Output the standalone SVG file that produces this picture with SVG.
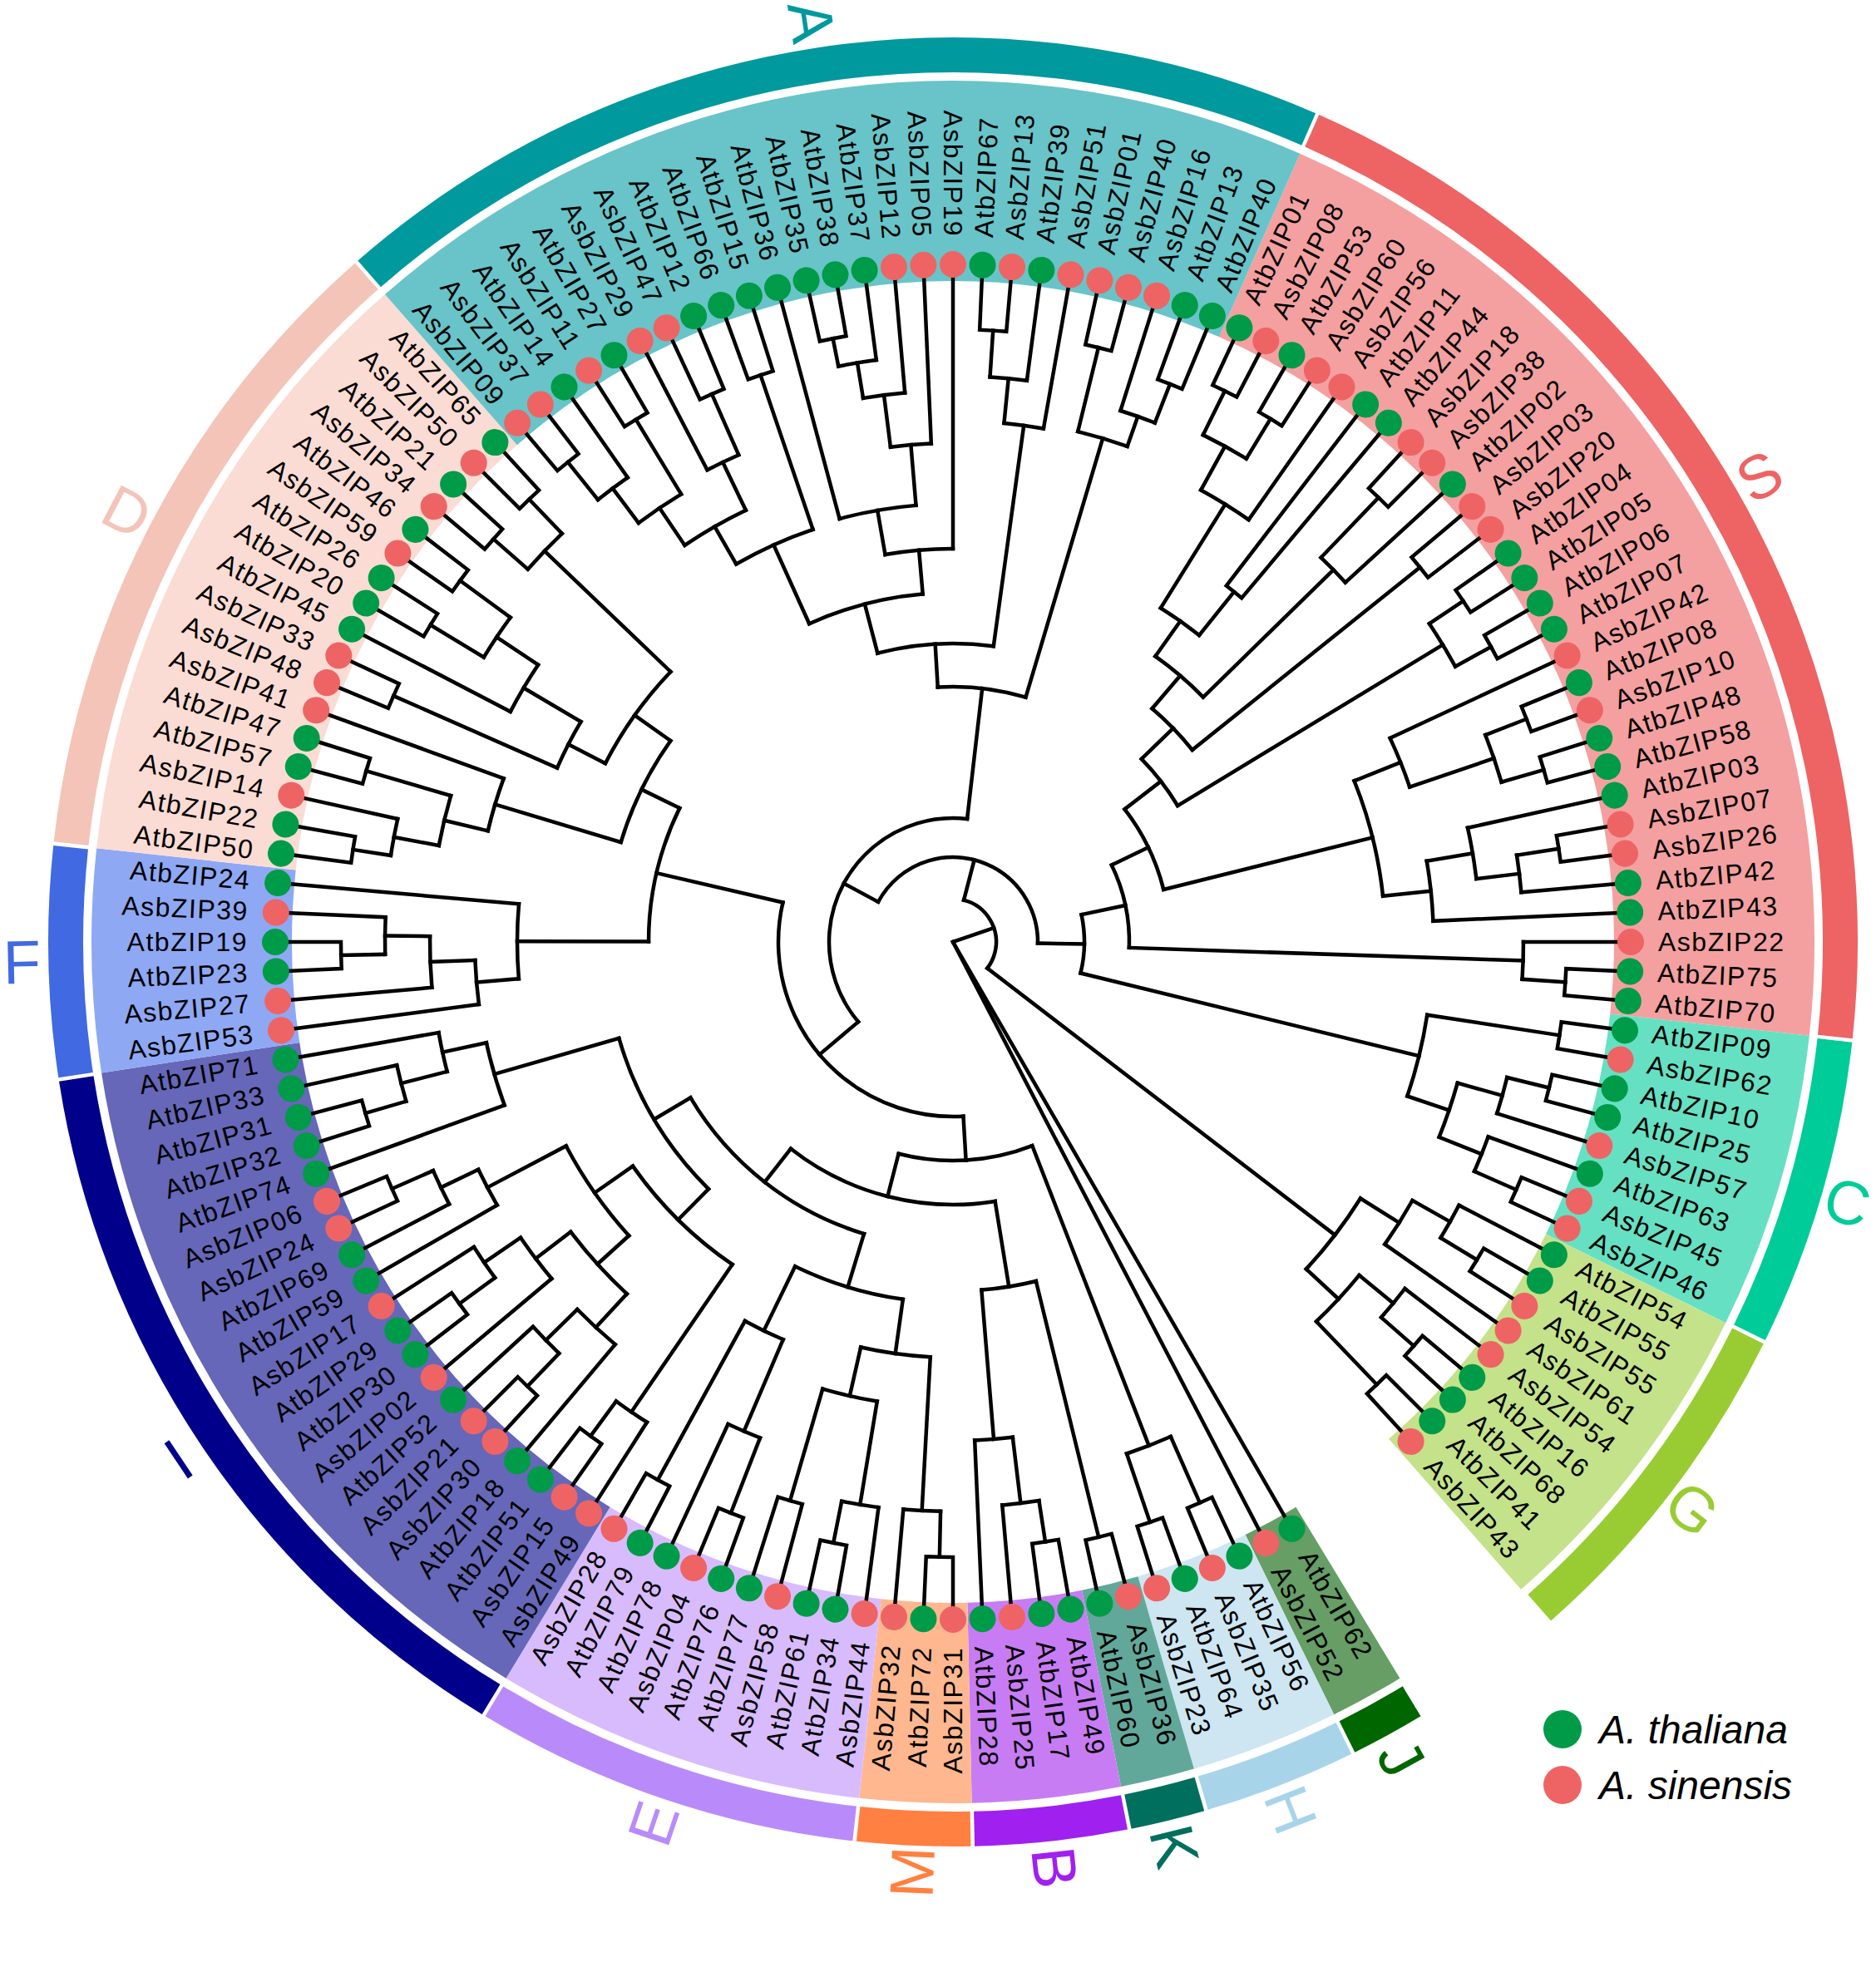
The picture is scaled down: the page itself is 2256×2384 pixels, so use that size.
<svg xmlns="http://www.w3.org/2000/svg" width="2256" height="2384" viewBox="0 0 2256 2384">
<style>
.hl circle{fill:none;stroke-width:241}
.ring circle{fill:none;stroke-width:42}
.tree{fill:none;stroke:#000;stroke-width:4.5;stroke-linecap:square}
.g{fill:#009B48}.r{fill:#EE6464}
.t{font-family:"Liberation Sans",Arial,Helvetica,sans-serif;font-size:32px;letter-spacing:1.5px;dominant-baseline:central;fill:#000}
.f{text-anchor:end}
.cl text{font-family:"Liberation Sans",Arial,sans-serif;font-size:74px;text-anchor:middle;dominant-baseline:central}
.lg{font-family:"Liberation Sans",Arial,sans-serif;font-size:48px;font-style:italic;dominant-baseline:central;fill:#000}
</style>
<rect width="2256" height="2384" fill="#fff"/>
<g transform="translate(1146 1133)">
<g id="highlights" class="hl">
<circle r="915.5" pathLength="360" stroke-dasharray="72.5 999" transform="rotate(293.75)" stroke="#F4A0A0"/>
<circle r="915.5" pathLength="360" stroke-dasharray="20 999" transform="rotate(6.25)" stroke="#66E0C2"/>
<circle r="915.5" pathLength="360" stroke-dasharray="22.5 999" transform="rotate(26.25)" stroke="#C4E28A"/>
<circle r="915.5" pathLength="360" stroke-dasharray="5 999" transform="rotate(58.75)" stroke="#669E66"/>
<circle r="915.5" pathLength="360" stroke-dasharray="10 999" transform="rotate(63.75)" stroke="#CDE6F2"/>
<circle r="915.5" pathLength="360" stroke-dasharray="5 999" transform="rotate(73.75)" stroke="#62A89A"/>
<circle r="915.5" pathLength="360" stroke-dasharray="10 999" transform="rotate(78.75)" stroke="#C77CF4"/>
<circle r="915.5" pathLength="360" stroke-dasharray="7.5 999" transform="rotate(88.75)" stroke="#FFB78F"/>
<circle r="915.5" pathLength="360" stroke-dasharray="25 999" transform="rotate(96.25)" stroke="#D8BBFD"/>
<circle r="915.5" pathLength="360" stroke-dasharray="50 999" transform="rotate(121.25)" stroke="#6667B8"/>
<circle r="915.5" pathLength="360" stroke-dasharray="15 999" transform="rotate(171.25)" stroke="#8EA8F4"/>
<circle r="915.5" pathLength="360" stroke-dasharray="42.5 999" transform="rotate(186.25)" stroke="#FADCD4"/>
<circle r="915.5" pathLength="360" stroke-dasharray="65 999" transform="rotate(228.75)" stroke="#68C4C8"/>
</g>
<g id="clade-bars" class="ring">
<circle r="1067" pathLength="360" stroke-dasharray="72.26 999" transform="rotate(293.87)" stroke="#EE6363"/>
<circle r="1067" pathLength="360" stroke-dasharray="19.76 999" transform="rotate(6.37)" stroke="#00CC99"/>
<circle r="1067" pathLength="360" stroke-dasharray="22.26 999" transform="rotate(26.37)" stroke="#99CC33"/>
<circle r="1067" pathLength="360" stroke-dasharray="4.76 999" transform="rotate(58.87)" stroke="#006600"/>
<circle r="1067" pathLength="360" stroke-dasharray="9.76 999" transform="rotate(63.87)" stroke="#A8D4EA"/>
<circle r="1067" pathLength="360" stroke-dasharray="4.76 999" transform="rotate(73.87)" stroke="#006F5E"/>
<circle r="1067" pathLength="360" stroke-dasharray="9.76 999" transform="rotate(78.87)" stroke="#A020F0"/>
<circle r="1067" pathLength="360" stroke-dasharray="7.26 999" transform="rotate(88.87)" stroke="#FF8040"/>
<circle r="1067" pathLength="360" stroke-dasharray="24.76 999" transform="rotate(96.37)" stroke="#B98BFA"/>
<circle r="1067" pathLength="360" stroke-dasharray="49.76 999" transform="rotate(121.37)" stroke="#00008B"/>
<circle r="1067" pathLength="360" stroke-dasharray="14.76 999" transform="rotate(171.37)" stroke="#4169E1"/>
<circle r="1067" pathLength="360" stroke-dasharray="42.26 999" transform="rotate(186.37)" stroke="#F4C4B8"/>
<circle r="1067" pathLength="360" stroke-dasharray="64.76 999" transform="rotate(228.87)" stroke="#00999E"/>
</g>
<g id="connectors" class="tree">
<path d="M0 0H52" transform="rotate(341.03)"/>
<path d="M0 0H800" transform="rotate(60)"/>
<path d="M0 0H800" transform="rotate(62.5)"/>
<circle r="52" pathLength="360" stroke-dasharray="112.95 999" transform="rotate(284.55)"/>
<path d="M52 0H102" transform="rotate(284.55)"/>
<path d="M52 0H579" transform="rotate(37.5)"/>
<circle r="102" pathLength="360" stroke-dasharray="152.69 999" transform="rotate(208.2)"/>
<path d="M102 0H149" transform="rotate(208.2)"/>
<path d="M102 0H158" transform="rotate(0.89)"/>
<circle r="158" pathLength="360" stroke-dasharray="25.73 999" transform="rotate(348.02)"/>
<path d="M158 0H212" transform="rotate(348.02)"/>
<path d="M158 0H577" transform="rotate(13.75)"/>
<circle r="212" pathLength="360" stroke-dasharray="27.715 999" transform="rotate(334.16)"/>
<path d="M212 0H261" transform="rotate(334.16)"/>
<path d="M212 0H686" transform="rotate(1.875)"/>
<circle r="261" pathLength="360" stroke-dasharray="23.72 999" transform="rotate(322.3)"/>
<path d="M261 0H316" transform="rotate(322.3)"/>
<path d="M261 0H520" transform="rotate(346.02)"/>
<circle r="316" pathLength="360" stroke-dasharray="12.89 999" transform="rotate(315.86)"/>
<path d="M316 0H369" transform="rotate(315.86)"/>
<path d="M316 0H689" transform="rotate(328.75)"/>
<circle r="369" pathLength="360" stroke-dasharray="10.78 999" transform="rotate(310.47)"/>
<path d="M369 0H421" transform="rotate(310.47)"/>
<path d="M369 0H720" transform="rotate(321.25)"/>
<circle r="421" pathLength="360" stroke-dasharray="10.315 999" transform="rotate(305.31)"/>
<path d="M421 0H473" transform="rotate(305.31)"/>
<path d="M421 0H640" transform="rotate(315.625)"/>
<circle r="473" pathLength="360" stroke-dasharray="6.875 999" transform="rotate(301.875)"/>
<path d="M473 0H620" transform="rotate(301.875)"/>
<path d="M473 0H540" transform="rotate(308.75)"/>
<circle r="620" pathLength="360" stroke-dasharray="6.25 999" transform="rotate(298.75)"/>
<path d="M620 0H680" transform="rotate(298.75)"/>
<path d="M620 0H800" transform="rotate(305)"/>
<circle r="680" pathLength="360" stroke-dasharray="5 999" transform="rotate(296.25)"/>
<path d="M680 0H739" transform="rotate(296.25)"/>
<path d="M680 0H736" transform="rotate(301.25)"/>
<path d="M800 0H739A739 739 0 0 1 738.3 32.23L799.24 34.9" transform="rotate(295)"/>
<path d="M800 0H736A736 736 0 0 1 735.3 32.1L799.24 34.9" transform="rotate(300)"/>
<path d="M800 0H540A540 540 0 0 1 539.49 23.55L799.24 34.9" transform="rotate(307.5)"/>
<circle r="640" pathLength="360" stroke-dasharray="3.75 999" transform="rotate(313.75)"/>
<path d="M640 0H740" transform="rotate(313.75)"/>
<path d="M640 0H800" transform="rotate(317.5)"/>
<path d="M800 0H740A740 740 0 0 1 739.3 32.28L799.24 34.9" transform="rotate(312.5)"/>
<path d="M800 0H720A720 720 0 0 1 719.31 31.41L799.24 34.9" transform="rotate(320)"/>
<circle r="689" pathLength="360" stroke-dasharray="5 999" transform="rotate(326.25)"/>
<path d="M689 0H738" transform="rotate(326.25)"/>
<path d="M689 0H738" transform="rotate(331.25)"/>
<path d="M800 0H738A738 738 0 0 1 737.3 32.19L799.24 34.9" transform="rotate(325)"/>
<path d="M800 0H738A738 738 0 0 1 737.3 32.19L799.24 34.9" transform="rotate(330)"/>
<circle r="520" pathLength="360" stroke-dasharray="15.785 999" transform="rotate(338.125)"/>
<path d="M520 0H580" transform="rotate(338.125)"/>
<path d="M520 0H578" transform="rotate(353.91)"/>
<circle r="580" pathLength="360" stroke-dasharray="6.25 999" transform="rotate(335)"/>
<path d="M580 0H800" transform="rotate(335)"/>
<path d="M580 0H687" transform="rotate(341.25)"/>
<circle r="687" pathLength="360" stroke-dasharray="5 999" transform="rotate(338.75)"/>
<path d="M687 0H740" transform="rotate(338.75)"/>
<path d="M687 0H740" transform="rotate(343.75)"/>
<path d="M800 0H740A740 740 0 0 1 739.3 32.28L799.24 34.9" transform="rotate(337.5)"/>
<path d="M800 0H740A740 740 0 0 1 739.3 32.28L799.24 34.9" transform="rotate(342.5)"/>
<circle r="578" pathLength="360" stroke-dasharray="7.19 999" transform="rotate(350.31)"/>
<path d="M578 0H634" transform="rotate(350.31)"/>
<path d="M578 0H800" transform="rotate(357.5)"/>
<circle r="634" pathLength="360" stroke-dasharray="5.625 999" transform="rotate(347.5)"/>
<path d="M634 0H800" transform="rotate(347.5)"/>
<path d="M634 0H686" transform="rotate(353.125)"/>
<circle r="686" pathLength="360" stroke-dasharray="3.75 999" transform="rotate(351.25)"/>
<path d="M686 0H737" transform="rotate(351.25)"/>
<path d="M686 0H800" transform="rotate(355)"/>
<path d="M800 0H737A737 737 0 0 1 736.3 32.15L799.24 34.9" transform="rotate(350)"/>
<circle r="686" pathLength="360" stroke-dasharray="3.75 999"/>
<path d="M686 0H800"/>
<path d="M686 0H738" transform="rotate(3.75)"/>
<path d="M800 0H738A738 738 0 0 1 737.3 32.19L799.24 34.9" transform="rotate(2.5)"/>
<circle r="577" pathLength="360" stroke-dasharray="10 999" transform="rotate(8.75)"/>
<path d="M577 0H738" transform="rotate(8.75)"/>
<path d="M577 0H630" transform="rotate(18.75)"/>
<path d="M800 0H738A738 738 0 0 1 737.3 32.19L799.24 34.9" transform="rotate(7.5)"/>
<circle r="630" pathLength="360" stroke-dasharray="6.25 999" transform="rotate(15.625)"/>
<path d="M630 0H686" transform="rotate(15.625)"/>
<path d="M630 0H685" transform="rotate(21.875)"/>
<circle r="686" pathLength="360" stroke-dasharray="3.75 999" transform="rotate(13.75)"/>
<path d="M686 0H738" transform="rotate(13.75)"/>
<path d="M686 0H800" transform="rotate(17.5)"/>
<path d="M800 0H738A738 738 0 0 1 737.3 32.19L799.24 34.9" transform="rotate(12.5)"/>
<circle r="685" pathLength="360" stroke-dasharray="3.75 999" transform="rotate(20)"/>
<path d="M685 0H800" transform="rotate(20)"/>
<path d="M685 0H740" transform="rotate(23.75)"/>
<path d="M800 0H740A740 740 0 0 1 739.3 32.28L799.24 34.9" transform="rotate(22.5)"/>
<circle r="579" pathLength="360" stroke-dasharray="10.62 999" transform="rotate(32.19)"/>
<path d="M579 0H634" transform="rotate(32.19)"/>
<path d="M579 0H632" transform="rotate(42.81)"/>
<circle r="634" pathLength="360" stroke-dasharray="5.625 999" transform="rotate(29.375)"/>
<path d="M634 0H686" transform="rotate(29.375)"/>
<path d="M634 0H800" transform="rotate(35)"/>
<circle r="686" pathLength="360" stroke-dasharray="3.75 999" transform="rotate(27.5)"/>
<path d="M686 0H800" transform="rotate(27.5)"/>
<path d="M686 0H737" transform="rotate(31.25)"/>
<path d="M800 0H737A737 737 0 0 1 736.3 32.15L799.24 34.9" transform="rotate(30)"/>
<circle r="632" pathLength="360" stroke-dasharray="6.875 999" transform="rotate(39.375)"/>
<path d="M632 0H685" transform="rotate(39.375)"/>
<path d="M632 0H737" transform="rotate(46.25)"/>
<circle r="685" pathLength="360" stroke-dasharray="3.75 999" transform="rotate(37.5)"/>
<path d="M685 0H800" transform="rotate(37.5)"/>
<path d="M685 0H737" transform="rotate(41.25)"/>
<path d="M800 0H737A737 737 0 0 1 736.3 32.15L799.24 34.9" transform="rotate(40)"/>
<path d="M800 0H737A737 737 0 0 1 736.3 32.15L799.24 34.9" transform="rotate(45)"/>
<circle r="149" pathLength="360" stroke-dasharray="136.73 999" transform="rotate(139.85)"/>
<path d="M149 0H210" transform="rotate(139.85)"/>
<path d="M149 0H307" transform="rotate(276.58)"/>
<circle r="210" pathLength="360" stroke-dasharray="106.49 999" transform="rotate(86.6)"/>
<path d="M210 0H263" transform="rotate(86.6)"/>
<path d="M210 0H366" transform="rotate(193.09)"/>
<circle r="263" pathLength="360" stroke-dasharray="35.65 999" transform="rotate(68.75)"/>
<path d="M263 0H650" transform="rotate(68.75)"/>
<path d="M263 0H316" transform="rotate(104.4)"/>
<circle r="650" pathLength="360" stroke-dasharray="5 999" transform="rotate(66.25)"/>
<path d="M650 0H737" transform="rotate(66.25)"/>
<path d="M650 0H737" transform="rotate(71.25)"/>
<path d="M800 0H737A737 737 0 0 1 736.3 32.15L799.24 34.9" transform="rotate(65)"/>
<path d="M800 0H737A737 737 0 0 1 736.3 32.15L799.24 34.9" transform="rotate(70)"/>
<circle r="316" pathLength="360" stroke-dasharray="47.32 999" transform="rotate(80.78)"/>
<path d="M316 0H420" transform="rotate(80.78)"/>
<path d="M316 0H367" transform="rotate(128.1)"/>
<circle r="420" pathLength="360" stroke-dasharray="9.06 999" transform="rotate(76.25)"/>
<path d="M420 0H737" transform="rotate(76.25)"/>
<path d="M420 0H600" transform="rotate(85.31)"/>
<path d="M800 0H737A737 737 0 0 1 736.3 32.15L799.24 34.9" transform="rotate(75)"/>
<circle r="600" pathLength="360" stroke-dasharray="4.375 999" transform="rotate(83.125)"/>
<path d="M600 0H680" transform="rotate(83.125)"/>
<path d="M600 0H800" transform="rotate(87.5)"/>
<circle r="680" pathLength="360" stroke-dasharray="3.75 999" transform="rotate(81.25)"/>
<path d="M680 0H730" transform="rotate(81.25)"/>
<path d="M680 0H800" transform="rotate(85)"/>
<path d="M800 0H730A730 730 0 0 1 729.3 31.84L799.24 34.9" transform="rotate(80)"/>
<circle r="367" pathLength="360" stroke-dasharray="42.35 999" transform="rotate(106.95)"/>
<path d="M367 0H434" transform="rotate(106.95)"/>
<path d="M367 0H418" transform="rotate(149.3)"/>
<circle r="434" pathLength="360" stroke-dasharray="17.97 999" transform="rotate(97.97)"/>
<path d="M434 0H500" transform="rotate(97.97)"/>
<path d="M434 0H520" transform="rotate(115.94)"/>
<circle r="500" pathLength="360" stroke-dasharray="9.685 999" transform="rotate(93.125)"/>
<path d="M500 0H685" transform="rotate(93.125)"/>
<path d="M500 0H560" transform="rotate(102.81)"/>
<circle r="685" pathLength="360" stroke-dasharray="3.75 999" transform="rotate(91.25)"/>
<path d="M685 0H740" transform="rotate(91.25)"/>
<path d="M685 0H800" transform="rotate(95)"/>
<path d="M800 0H740A740 740 0 0 1 739.3 32.28L799.24 34.9" transform="rotate(90)"/>
<circle r="560" pathLength="360" stroke-dasharray="6.875 999" transform="rotate(99.375)"/>
<path d="M560 0H686" transform="rotate(99.375)"/>
<path d="M560 0H700" transform="rotate(106.25)"/>
<circle r="686" pathLength="360" stroke-dasharray="3.75 999" transform="rotate(97.5)"/>
<path d="M686 0H800" transform="rotate(97.5)"/>
<path d="M686 0H737" transform="rotate(101.25)"/>
<path d="M800 0H737A737 737 0 0 1 736.3 32.15L799.24 34.9" transform="rotate(100)"/>
<path d="M800 0H700A700 700 0 0 1 699.33 30.53L799.24 34.9" transform="rotate(105)"/>
<circle r="520" pathLength="360" stroke-dasharray="5.625 999" transform="rotate(113.125)"/>
<path d="M520 0H640" transform="rotate(113.125)"/>
<path d="M520 0H738" transform="rotate(118.75)"/>
<circle r="640" pathLength="360" stroke-dasharray="3.75 999" transform="rotate(111.25)"/>
<path d="M640 0H737" transform="rotate(111.25)"/>
<path d="M640 0H800" transform="rotate(115)"/>
<path d="M800 0H737A737 737 0 0 1 736.3 32.15L799.24 34.9" transform="rotate(110)"/>
<path d="M800 0H738A738 738 0 0 1 737.3 32.19L799.24 34.9" transform="rotate(117.5)"/>
<circle r="418" pathLength="360" stroke-dasharray="29.22 999" transform="rotate(134.69)"/>
<path d="M418 0H470" transform="rotate(134.69)"/>
<path d="M418 0H574" transform="rotate(163.91)"/>
<circle r="574" pathLength="360" stroke-dasharray="7.81 999" transform="rotate(160)"/>
<path d="M574 0H800" transform="rotate(160)"/>
<path d="M574 0H628" transform="rotate(167.81)"/>
<circle r="628" pathLength="360" stroke-dasharray="4.375 999" transform="rotate(165.625)"/>
<path d="M628 0H685" transform="rotate(165.625)"/>
<path d="M628 0H800" transform="rotate(170)"/>
<circle r="685" pathLength="360" stroke-dasharray="3.75 999" transform="rotate(163.75)"/>
<path d="M685 0H736" transform="rotate(163.75)"/>
<path d="M685 0H800" transform="rotate(167.5)"/>
<path d="M800 0H736A736 736 0 0 1 735.3 32.1L799.24 34.9" transform="rotate(162.5)"/>
<circle r="470" pathLength="360" stroke-dasharray="20.625 999" transform="rotate(124.375)"/>
<path d="M470 0H685" transform="rotate(124.375)"/>
<path d="M470 0H526" transform="rotate(145)"/>
<circle r="685" pathLength="360" stroke-dasharray="3.75 999" transform="rotate(122.5)"/>
<path d="M685 0H800" transform="rotate(122.5)"/>
<path d="M685 0H737" transform="rotate(126.25)"/>
<path d="M800 0H737A737 737 0 0 1 736.3 32.15L799.24 34.9" transform="rotate(125)"/>
<circle r="526" pathLength="360" stroke-dasharray="14.38 999" transform="rotate(137.81)"/>
<path d="M526 0H577" transform="rotate(137.81)"/>
<path d="M526 0H633" transform="rotate(152.19)"/>
<circle r="633" pathLength="360" stroke-dasharray="4.375 999" transform="rotate(150)"/>
<path d="M633 0H800" transform="rotate(150)"/>
<path d="M633 0H683" transform="rotate(154.375)"/>
<circle r="683" pathLength="360" stroke-dasharray="3.75 999" transform="rotate(152.5)"/>
<path d="M683 0H800" transform="rotate(152.5)"/>
<path d="M683 0H737" transform="rotate(156.25)"/>
<path d="M800 0H737A737 737 0 0 1 736.3 32.15L799.24 34.9" transform="rotate(155)"/>
<circle r="577" pathLength="360" stroke-dasharray="10 999" transform="rotate(132.81)"/>
<path d="M577 0H632" transform="rotate(132.81)"/>
<path d="M577 0H630" transform="rotate(142.81)"/>
<circle r="630" pathLength="360" stroke-dasharray="5.625 999" transform="rotate(140)"/>
<path d="M630 0H800" transform="rotate(140)"/>
<path d="M630 0H683" transform="rotate(145.625)"/>
<circle r="683" pathLength="360" stroke-dasharray="3.75 999" transform="rotate(143.75)"/>
<path d="M683 0H736" transform="rotate(143.75)"/>
<path d="M683 0H800" transform="rotate(147.5)"/>
<path d="M800 0H736A736 736 0 0 1 735.3 32.1L799.24 34.9" transform="rotate(142.5)"/>
<circle r="632" pathLength="360" stroke-dasharray="5.625 999" transform="rotate(130)"/>
<path d="M632 0H800" transform="rotate(130)"/>
<path d="M632 0H685" transform="rotate(135.625)"/>
<circle r="685" pathLength="360" stroke-dasharray="3.75 999" transform="rotate(133.75)"/>
<path d="M685 0H740" transform="rotate(133.75)"/>
<path d="M685 0H800" transform="rotate(137.5)"/>
<path d="M800 0H740A740 740 0 0 1 739.3 32.28L799.24 34.9" transform="rotate(132.5)"/>
<circle r="366" pathLength="360" stroke-dasharray="26.01 999" transform="rotate(180.08)"/>
<path d="M366 0H524" transform="rotate(180.08)"/>
<path d="M366 0H417" transform="rotate(206.09)"/>
<circle r="524" pathLength="360" stroke-dasharray="9.84 999" transform="rotate(175.16)"/>
<path d="M524 0H575" transform="rotate(175.16)"/>
<path d="M524 0H800" transform="rotate(185)"/>
<circle r="575" pathLength="360" stroke-dasharray="5.31 999" transform="rotate(172.5)"/>
<path d="M575 0H800" transform="rotate(172.5)"/>
<path d="M575 0H629" transform="rotate(177.81)"/>
<circle r="629" pathLength="360" stroke-dasharray="5.625 999" transform="rotate(175)"/>
<path d="M629 0H800" transform="rotate(175)"/>
<path d="M629 0H683" transform="rotate(180.625)"/>
<circle r="683" pathLength="360" stroke-dasharray="3.75 999" transform="rotate(178.75)"/>
<path d="M683 0H736" transform="rotate(178.75)"/>
<path d="M683 0H800" transform="rotate(182.5)"/>
<path d="M800 0H736A736 736 0 0 1 735.3 32.1L799.24 34.9" transform="rotate(177.5)"/>
<circle r="417" pathLength="360" stroke-dasharray="18.75 999" transform="rotate(196.72)"/>
<path d="M417 0H575" transform="rotate(196.72)"/>
<path d="M417 0H470" transform="rotate(215.47)"/>
<circle r="575" pathLength="360" stroke-dasharray="6.56 999" transform="rotate(193.44)"/>
<path d="M575 0H629" transform="rotate(193.44)"/>
<path d="M575 0H800" transform="rotate(200)"/>
<circle r="629" pathLength="360" stroke-dasharray="5.625 999" transform="rotate(190.625)"/>
<path d="M629 0H684" transform="rotate(190.625)"/>
<path d="M629 0H735" transform="rotate(196.25)"/>
<circle r="684" pathLength="360" stroke-dasharray="3.75 999" transform="rotate(188.75)"/>
<path d="M684 0H730" transform="rotate(188.75)"/>
<path d="M684 0H800" transform="rotate(192.5)"/>
<path d="M800 0H730A730 730 0 0 1 729.3 31.84L799.24 34.9" transform="rotate(187.5)"/>
<path d="M800 0H735A735 735 0 0 1 734.3 32.06L799.24 34.9" transform="rotate(195)"/>
<circle r="470" pathLength="360" stroke-dasharray="16.56 999" transform="rotate(207.19)"/>
<path d="M470 0H520" transform="rotate(207.19)"/>
<path d="M470 0H680" transform="rotate(223.75)"/>
<circle r="520" pathLength="360" stroke-dasharray="6.875 999" transform="rotate(203.75)"/>
<path d="M520 0H735" transform="rotate(203.75)"/>
<path d="M520 0H600" transform="rotate(210.625)"/>
<path d="M800 0H735A735 735 0 0 1 734.3 32.06L799.24 34.9" transform="rotate(202.5)"/>
<circle r="600" pathLength="360" stroke-dasharray="6.25 999" transform="rotate(207.5)"/>
<path d="M600 0H800" transform="rotate(207.5)"/>
<path d="M600 0H660" transform="rotate(213.75)"/>
<circle r="660" pathLength="360" stroke-dasharray="5 999" transform="rotate(211.25)"/>
<path d="M660 0H735" transform="rotate(211.25)"/>
<path d="M660 0H735" transform="rotate(216.25)"/>
<path d="M800 0H735A735 735 0 0 1 734.3 32.06L799.24 34.9" transform="rotate(210)"/>
<path d="M800 0H735A735 735 0 0 1 734.3 32.06L799.24 34.9" transform="rotate(215)"/>
<circle r="680" pathLength="360" stroke-dasharray="5 999" transform="rotate(221.25)"/>
<path d="M680 0H735" transform="rotate(221.25)"/>
<path d="M680 0H737" transform="rotate(226.25)"/>
<path d="M800 0H735A735 735 0 0 1 734.3 32.06L799.24 34.9" transform="rotate(220)"/>
<path d="M800 0H737A737 737 0 0 1 736.3 32.15L799.24 34.9" transform="rotate(225)"/>
<circle r="307" pathLength="360" stroke-dasharray="19.97 999" transform="rotate(266.59)"/>
<path d="M307 0H359" transform="rotate(266.59)"/>
<path d="M307 0H632" transform="rotate(286.56)"/>
<circle r="359" pathLength="360" stroke-dasharray="22.44 999" transform="rotate(255.37)"/>
<path d="M359 0H420" transform="rotate(255.37)"/>
<path d="M359 0H627" transform="rotate(277.81)"/>
<circle r="420" pathLength="360" stroke-dasharray="19.34 999" transform="rotate(245.7)"/>
<path d="M420 0H524" transform="rotate(245.7)"/>
<path d="M420 0H473" transform="rotate(265.04)"/>
<circle r="524" pathLength="360" stroke-dasharray="11.09 999" transform="rotate(240.16)"/>
<path d="M524 0H576" transform="rotate(240.16)"/>
<path d="M524 0H720" transform="rotate(251.25)"/>
<path d="M800 0H720A720 720 0 0 1 719.31 31.41L799.24 34.9" transform="rotate(250)"/>
<circle r="576" pathLength="360" stroke-dasharray="8.435 999" transform="rotate(235.94)"/>
<path d="M576 0H630" transform="rotate(235.94)"/>
<path d="M576 0H640" transform="rotate(244.375)"/>
<circle r="630" pathLength="360" stroke-dasharray="5.625 999" transform="rotate(233.125)"/>
<path d="M630 0H682" transform="rotate(233.125)"/>
<path d="M630 0H735" transform="rotate(238.75)"/>
<circle r="682" pathLength="360" stroke-dasharray="3.75 999" transform="rotate(231.25)"/>
<path d="M682 0H740" transform="rotate(231.25)"/>
<path d="M682 0H800" transform="rotate(235)"/>
<path d="M800 0H740A740 740 0 0 1 739.3 32.28L799.24 34.9" transform="rotate(230)"/>
<path d="M800 0H735A735 735 0 0 1 734.3 32.06L799.24 34.9" transform="rotate(237.5)"/>
<circle r="640" pathLength="360" stroke-dasharray="3.75 999" transform="rotate(242.5)"/>
<path d="M640 0H800" transform="rotate(242.5)"/>
<path d="M640 0H720" transform="rotate(246.25)"/>
<path d="M800 0H720A720 720 0 0 1 719.31 31.41L799.24 34.9" transform="rotate(245)"/>
<circle r="473" pathLength="360" stroke-dasharray="9.92 999" transform="rotate(260.08)"/>
<path d="M473 0H527" transform="rotate(260.08)"/>
<path d="M473 0H800" transform="rotate(270)"/>
<circle r="527" pathLength="360" stroke-dasharray="10.16 999" transform="rotate(255)"/>
<path d="M527 0H800" transform="rotate(255)"/>
<path d="M527 0H600" transform="rotate(265.16)"/>
<circle r="600" pathLength="360" stroke-dasharray="4.69 999" transform="rotate(262.81)"/>
<path d="M600 0H663" transform="rotate(262.81)"/>
<path d="M600 0H800" transform="rotate(267.5)"/>
<circle r="663" pathLength="360" stroke-dasharray="4.375 999" transform="rotate(260.625)"/>
<path d="M663 0H706" transform="rotate(260.625)"/>
<path d="M663 0H800" transform="rotate(265)"/>
<circle r="706" pathLength="360" stroke-dasharray="3.75 999" transform="rotate(258.75)"/>
<path d="M706 0H740" transform="rotate(258.75)"/>
<path d="M706 0H800" transform="rotate(262.5)"/>
<path d="M800 0H740A740 740 0 0 1 739.3 32.28L799.24 34.9" transform="rotate(257.5)"/>
<circle r="627" pathLength="360" stroke-dasharray="4.375 999" transform="rotate(275.625)"/>
<path d="M627 0H681" transform="rotate(275.625)"/>
<path d="M627 0H800" transform="rotate(280)"/>
<circle r="681" pathLength="360" stroke-dasharray="3.75 999" transform="rotate(273.75)"/>
<path d="M681 0H737" transform="rotate(273.75)"/>
<path d="M681 0H800" transform="rotate(277.5)"/>
<path d="M800 0H737A737 737 0 0 1 736.3 32.15L799.24 34.9" transform="rotate(272.5)"/>
<circle r="632" pathLength="360" stroke-dasharray="5.625 999" transform="rotate(283.75)"/>
<path d="M632 0H736" transform="rotate(283.75)"/>
<path d="M632 0H670" transform="rotate(289.375)"/>
<path d="M800 0H736A736 736 0 0 1 735.3 32.1L799.24 34.9" transform="rotate(282.5)"/>
<circle r="670" pathLength="360" stroke-dasharray="3.75 999" transform="rotate(287.5)"/>
<path d="M670 0H800" transform="rotate(287.5)"/>
<path d="M670 0H720" transform="rotate(291.25)"/>
<path d="M800 0H720A720 720 0 0 1 719.31 31.41L799.24 34.9" transform="rotate(290)"/>
</g>
<g id="leaves">
<g id="n-AsbZIP22"><circle cx="815" r="16" class="r"/><text x="848" class="t">AsbZIP22</text></g>
<g id="n-AtbZIP75" transform="rotate(2.5)"><circle cx="815" r="16" class="g"/><text x="848" class="t">AtbZIP75</text></g>
<g id="n-AtbZIP70" transform="rotate(5)"><circle cx="815" r="16" class="g"/><text x="848" class="t">AtbZIP70</text></g>
<g id="n-AtbZIP09" transform="rotate(7.5)"><circle cx="815" r="16" class="g"/><text x="848" class="t">AtbZIP09</text></g>
<g id="n-AsbZIP62" transform="rotate(10)"><circle cx="815" r="16" class="r"/><text x="848" class="t">AsbZIP62</text></g>
<g id="n-AtbZIP10" transform="rotate(12.5)"><circle cx="815" r="16" class="g"/><text x="848" class="t">AtbZIP10</text></g>
<g id="n-AtbZIP25" transform="rotate(15)"><circle cx="815" r="16" class="g"/><text x="848" class="t">AtbZIP25</text></g>
<g id="n-AsbZIP57" transform="rotate(17.5)"><circle cx="815" r="16" class="r"/><text x="848" class="t">AsbZIP57</text></g>
<g id="n-AtbZIP63" transform="rotate(20)"><circle cx="815" r="16" class="g"/><text x="848" class="t">AtbZIP63</text></g>
<g id="n-AsbZIP45" transform="rotate(22.5)"><circle cx="815" r="16" class="r"/><text x="848" class="t">AsbZIP45</text></g>
<g id="n-AsbZIP46" transform="rotate(25)"><circle cx="815" r="16" class="r"/><text x="848" class="t">AsbZIP46</text></g>
<g id="n-AtbZIP54" transform="rotate(27.5)"><circle cx="815" r="16" class="g"/><text x="848" class="t">AtbZIP54</text></g>
<g id="n-AtbZIP55" transform="rotate(30)"><circle cx="815" r="16" class="g"/><text x="848" class="t">AtbZIP55</text></g>
<g id="n-AsbZIP55" transform="rotate(32.5)"><circle cx="815" r="16" class="r"/><text x="848" class="t">AsbZIP55</text></g>
<g id="n-AsbZIP61" transform="rotate(35)"><circle cx="815" r="16" class="r"/><text x="848" class="t">AsbZIP61</text></g>
<g id="n-AsbZIP54" transform="rotate(37.5)"><circle cx="815" r="16" class="r"/><text x="848" class="t">AsbZIP54</text></g>
<g id="n-AtbZIP16" transform="rotate(40)"><circle cx="815" r="16" class="g"/><text x="848" class="t">AtbZIP16</text></g>
<g id="n-AtbZIP68" transform="rotate(42.5)"><circle cx="815" r="16" class="g"/><text x="848" class="t">AtbZIP68</text></g>
<g id="n-AtbZIP41" transform="rotate(45)"><circle cx="815" r="16" class="g"/><text x="848" class="t">AtbZIP41</text></g>
<g id="n-AsbZIP43" transform="rotate(47.5)"><circle cx="815" r="16" class="r"/><text x="848" class="t">AsbZIP43</text></g>
<g id="n-AtbZIP62" transform="rotate(60)"><circle cx="815" r="16" class="g"/><text x="848" class="t">AtbZIP62</text></g>
<g id="n-AsbZIP52" transform="rotate(62.5)"><circle cx="815" r="16" class="r"/><text x="848" class="t">AsbZIP52</text></g>
<g id="n-AtbZIP56" transform="rotate(65)"><circle cx="815" r="16" class="g"/><text x="848" class="t">AtbZIP56</text></g>
<g id="n-AsbZIP35" transform="rotate(67.5)"><circle cx="815" r="16" class="r"/><text x="848" class="t">AsbZIP35</text></g>
<g id="n-AtbZIP64" transform="rotate(70)"><circle cx="815" r="16" class="g"/><text x="848" class="t">AtbZIP64</text></g>
<g id="n-AsbZIP23" transform="rotate(72.5)"><circle cx="815" r="16" class="r"/><text x="848" class="t">AsbZIP23</text></g>
<g id="n-AsbZIP36" transform="rotate(75)"><circle cx="815" r="16" class="r"/><text x="848" class="t">AsbZIP36</text></g>
<g id="n-AtbZIP60" transform="rotate(77.5)"><circle cx="815" r="16" class="g"/><text x="848" class="t">AtbZIP60</text></g>
<g id="n-AtbZIP49" transform="rotate(80)"><circle cx="815" r="16" class="g"/><text x="848" class="t">AtbZIP49</text></g>
<g id="n-AtbZIP17" transform="rotate(82.5)"><circle cx="815" r="16" class="g"/><text x="848" class="t">AtbZIP17</text></g>
<g id="n-AsbZIP25" transform="rotate(85)"><circle cx="815" r="16" class="r"/><text x="848" class="t">AsbZIP25</text></g>
<g id="n-AtbZIP28" transform="rotate(87.5)"><circle cx="815" r="16" class="g"/><text x="848" class="t">AtbZIP28</text></g>
<g id="n-AsbZIP31" transform="rotate(90)"><circle cx="815" r="16" class="r"/><text x="-848" class="t f" transform="rotate(180)">AsbZIP31</text></g>
<g id="n-AtbZIP72" transform="rotate(92.5)"><circle cx="815" r="16" class="g"/><text x="-848" class="t f" transform="rotate(180)">AtbZIP72</text></g>
<g id="n-AsbZIP32" transform="rotate(95)"><circle cx="815" r="16" class="r"/><text x="-848" class="t f" transform="rotate(180)">AsbZIP32</text></g>
<g id="n-AsbZIP44" transform="rotate(97.5)"><circle cx="815" r="16" class="r"/><text x="-848" class="t f" transform="rotate(180)">AsbZIP44</text></g>
<g id="n-AtbZIP34" transform="rotate(100)"><circle cx="815" r="16" class="g"/><text x="-848" class="t f" transform="rotate(180)">AtbZIP34</text></g>
<g id="n-AtbZIP61" transform="rotate(102.5)"><circle cx="815" r="16" class="g"/><text x="-848" class="t f" transform="rotate(180)">AtbZIP61</text></g>
<g id="n-AsbZIP58" transform="rotate(105)"><circle cx="815" r="16" class="r"/><text x="-848" class="t f" transform="rotate(180)">AsbZIP58</text></g>
<g id="n-AtbZIP77" transform="rotate(107.5)"><circle cx="815" r="16" class="g"/><text x="-848" class="t f" transform="rotate(180)">AtbZIP77</text></g>
<g id="n-AtbZIP76" transform="rotate(110)"><circle cx="815" r="16" class="g"/><text x="-848" class="t f" transform="rotate(180)">AtbZIP76</text></g>
<g id="n-AsbZIP04" transform="rotate(112.5)"><circle cx="815" r="16" class="r"/><text x="-848" class="t f" transform="rotate(180)">AsbZIP04</text></g>
<g id="n-AtbZIP78" transform="rotate(115)"><circle cx="815" r="16" class="g"/><text x="-848" class="t f" transform="rotate(180)">AtbZIP78</text></g>
<g id="n-AtbZIP79" transform="rotate(117.5)"><circle cx="815" r="16" class="g"/><text x="-848" class="t f" transform="rotate(180)">AtbZIP79</text></g>
<g id="n-AsbZIP28" transform="rotate(120)"><circle cx="815" r="16" class="r"/><text x="-848" class="t f" transform="rotate(180)">AsbZIP28</text></g>
<g id="n-AsbZIP49" transform="rotate(122.5)"><circle cx="815" r="16" class="r"/><text x="-848" class="t f" transform="rotate(180)">AsbZIP49</text></g>
<g id="n-AsbZIP15" transform="rotate(125)"><circle cx="815" r="16" class="r"/><text x="-848" class="t f" transform="rotate(180)">AsbZIP15</text></g>
<g id="n-AtbZIP51" transform="rotate(127.5)"><circle cx="815" r="16" class="g"/><text x="-848" class="t f" transform="rotate(180)">AtbZIP51</text></g>
<g id="n-AtbZIP18" transform="rotate(130)"><circle cx="815" r="16" class="g"/><text x="-848" class="t f" transform="rotate(180)">AtbZIP18</text></g>
<g id="n-AsbZIP30" transform="rotate(132.5)"><circle cx="815" r="16" class="r"/><text x="-848" class="t f" transform="rotate(180)">AsbZIP30</text></g>
<g id="n-AsbZIP21" transform="rotate(135)"><circle cx="815" r="16" class="r"/><text x="-848" class="t f" transform="rotate(180)">AsbZIP21</text></g>
<g id="n-AtbZIP52" transform="rotate(137.5)"><circle cx="815" r="16" class="g"/><text x="-848" class="t f" transform="rotate(180)">AtbZIP52</text></g>
<g id="n-AsbZIP02" transform="rotate(140)"><circle cx="815" r="16" class="r"/><text x="-848" class="t f" transform="rotate(180)">AsbZIP02</text></g>
<g id="n-AtbZIP30" transform="rotate(142.5)"><circle cx="815" r="16" class="g"/><text x="-848" class="t f" transform="rotate(180)">AtbZIP30</text></g>
<g id="n-AtbZIP29" transform="rotate(145)"><circle cx="815" r="16" class="g"/><text x="-848" class="t f" transform="rotate(180)">AtbZIP29</text></g>
<g id="n-AsbZIP17" transform="rotate(147.5)"><circle cx="815" r="16" class="r"/><text x="-848" class="t f" transform="rotate(180)">AsbZIP17</text></g>
<g id="n-AtbZIP59" transform="rotate(150)"><circle cx="815" r="16" class="g"/><text x="-848" class="t f" transform="rotate(180)">AtbZIP59</text></g>
<g id="n-AtbZIP69" transform="rotate(152.5)"><circle cx="815" r="16" class="g"/><text x="-848" class="t f" transform="rotate(180)">AtbZIP69</text></g>
<g id="n-AsbZIP24" transform="rotate(155)"><circle cx="815" r="16" class="r"/><text x="-848" class="t f" transform="rotate(180)">AsbZIP24</text></g>
<g id="n-AsbZIP06" transform="rotate(157.5)"><circle cx="815" r="16" class="r"/><text x="-848" class="t f" transform="rotate(180)">AsbZIP06</text></g>
<g id="n-AtbZIP74" transform="rotate(160)"><circle cx="815" r="16" class="g"/><text x="-848" class="t f" transform="rotate(180)">AtbZIP74</text></g>
<g id="n-AtbZIP32" transform="rotate(162.5)"><circle cx="815" r="16" class="g"/><text x="-848" class="t f" transform="rotate(180)">AtbZIP32</text></g>
<g id="n-AtbZIP31" transform="rotate(165)"><circle cx="815" r="16" class="g"/><text x="-848" class="t f" transform="rotate(180)">AtbZIP31</text></g>
<g id="n-AtbZIP33" transform="rotate(167.5)"><circle cx="815" r="16" class="g"/><text x="-848" class="t f" transform="rotate(180)">AtbZIP33</text></g>
<g id="n-AtbZIP71" transform="rotate(170)"><circle cx="815" r="16" class="g"/><text x="-848" class="t f" transform="rotate(180)">AtbZIP71</text></g>
<g id="n-AsbZIP53" transform="rotate(172.5)"><circle cx="815" r="16" class="r"/><text x="-848" class="t f" transform="rotate(180)">AsbZIP53</text></g>
<g id="n-AsbZIP27" transform="rotate(175)"><circle cx="815" r="16" class="r"/><text x="-848" class="t f" transform="rotate(180)">AsbZIP27</text></g>
<g id="n-AtbZIP23" transform="rotate(177.5)"><circle cx="815" r="16" class="g"/><text x="-848" class="t f" transform="rotate(180)">AtbZIP23</text></g>
<g id="n-AtbZIP19" transform="rotate(180)"><circle cx="815" r="16" class="g"/><text x="-848" class="t f" transform="rotate(180)">AtbZIP19</text></g>
<g id="n-AsbZIP39" transform="rotate(182.5)"><circle cx="815" r="16" class="r"/><text x="-848" class="t f" transform="rotate(180)">AsbZIP39</text></g>
<g id="n-AtbZIP24" transform="rotate(185)"><circle cx="815" r="16" class="g"/><text x="-848" class="t f" transform="rotate(180)">AtbZIP24</text></g>
<g id="n-AtbZIP50" transform="rotate(187.5)"><circle cx="815" r="16" class="g"/><text x="-848" class="t f" transform="rotate(180)">AtbZIP50</text></g>
<g id="n-AtbZIP22" transform="rotate(190)"><circle cx="815" r="16" class="g"/><text x="-848" class="t f" transform="rotate(180)">AtbZIP22</text></g>
<g id="n-AsbZIP14" transform="rotate(192.5)"><circle cx="815" r="16" class="r"/><text x="-848" class="t f" transform="rotate(180)">AsbZIP14</text></g>
<g id="n-AtbZIP57" transform="rotate(195)"><circle cx="815" r="16" class="g"/><text x="-848" class="t f" transform="rotate(180)">AtbZIP57</text></g>
<g id="n-AtbZIP47" transform="rotate(197.5)"><circle cx="815" r="16" class="g"/><text x="-848" class="t f" transform="rotate(180)">AtbZIP47</text></g>
<g id="n-AsbZIP41" transform="rotate(200)"><circle cx="815" r="16" class="r"/><text x="-848" class="t f" transform="rotate(180)">AsbZIP41</text></g>
<g id="n-AsbZIP48" transform="rotate(202.5)"><circle cx="815" r="16" class="r"/><text x="-848" class="t f" transform="rotate(180)">AsbZIP48</text></g>
<g id="n-AsbZIP33" transform="rotate(205)"><circle cx="815" r="16" class="r"/><text x="-848" class="t f" transform="rotate(180)">AsbZIP33</text></g>
<g id="n-AtbZIP45" transform="rotate(207.5)"><circle cx="815" r="16" class="g"/><text x="-848" class="t f" transform="rotate(180)">AtbZIP45</text></g>
<g id="n-AtbZIP20" transform="rotate(210)"><circle cx="815" r="16" class="g"/><text x="-848" class="t f" transform="rotate(180)">AtbZIP20</text></g>
<g id="n-AtbZIP26" transform="rotate(212.5)"><circle cx="815" r="16" class="g"/><text x="-848" class="t f" transform="rotate(180)">AtbZIP26</text></g>
<g id="n-AsbZIP59" transform="rotate(215)"><circle cx="815" r="16" class="r"/><text x="-848" class="t f" transform="rotate(180)">AsbZIP59</text></g>
<g id="n-AtbZIP46" transform="rotate(217.5)"><circle cx="815" r="16" class="g"/><text x="-848" class="t f" transform="rotate(180)">AtbZIP46</text></g>
<g id="n-AsbZIP34" transform="rotate(220)"><circle cx="815" r="16" class="r"/><text x="-848" class="t f" transform="rotate(180)">AsbZIP34</text></g>
<g id="n-AtbZIP21" transform="rotate(222.5)"><circle cx="815" r="16" class="g"/><text x="-848" class="t f" transform="rotate(180)">AtbZIP21</text></g>
<g id="n-AsbZIP50" transform="rotate(225)"><circle cx="815" r="16" class="r"/><text x="-848" class="t f" transform="rotate(180)">AsbZIP50</text></g>
<g id="n-AtbZIP65" transform="rotate(227.5)"><circle cx="815" r="16" class="g"/><text x="-848" class="t f" transform="rotate(180)">AtbZIP65</text></g>
<g id="n-AsbZIP09" transform="rotate(230)"><circle cx="815" r="16" class="r"/><text x="-848" class="t f" transform="rotate(180)">AsbZIP09</text></g>
<g id="n-AsbZIP37" transform="rotate(232.5)"><circle cx="815" r="16" class="r"/><text x="-848" class="t f" transform="rotate(180)">AsbZIP37</text></g>
<g id="n-AtbZIP14" transform="rotate(235)"><circle cx="815" r="16" class="g"/><text x="-848" class="t f" transform="rotate(180)">AtbZIP14</text></g>
<g id="n-AsbZIP11" transform="rotate(237.5)"><circle cx="815" r="16" class="r"/><text x="-848" class="t f" transform="rotate(180)">AsbZIP11</text></g>
<g id="n-AtbZIP27" transform="rotate(240)"><circle cx="815" r="16" class="g"/><text x="-848" class="t f" transform="rotate(180)">AtbZIP27</text></g>
<g id="n-AsbZIP29" transform="rotate(242.5)"><circle cx="815" r="16" class="r"/><text x="-848" class="t f" transform="rotate(180)">AsbZIP29</text></g>
<g id="n-AsbZIP47" transform="rotate(245)"><circle cx="815" r="16" class="r"/><text x="-848" class="t f" transform="rotate(180)">AsbZIP47</text></g>
<g id="n-AtbZIP12" transform="rotate(247.5)"><circle cx="815" r="16" class="g"/><text x="-848" class="t f" transform="rotate(180)">AtbZIP12</text></g>
<g id="n-AtbZIP66" transform="rotate(250)"><circle cx="815" r="16" class="g"/><text x="-848" class="t f" transform="rotate(180)">AtbZIP66</text></g>
<g id="n-AtbZIP15" transform="rotate(252.5)"><circle cx="815" r="16" class="g"/><text x="-848" class="t f" transform="rotate(180)">AtbZIP15</text></g>
<g id="n-AtbZIP36" transform="rotate(255)"><circle cx="815" r="16" class="g"/><text x="-848" class="t f" transform="rotate(180)">AtbZIP36</text></g>
<g id="n-AtbZIP35" transform="rotate(257.5)"><circle cx="815" r="16" class="g"/><text x="-848" class="t f" transform="rotate(180)">AtbZIP35</text></g>
<g id="n-AtbZIP38" transform="rotate(260)"><circle cx="815" r="16" class="g"/><text x="-848" class="t f" transform="rotate(180)">AtbZIP38</text></g>
<g id="n-AtbZIP37" transform="rotate(262.5)"><circle cx="815" r="16" class="g"/><text x="-848" class="t f" transform="rotate(180)">AtbZIP37</text></g>
<g id="n-AsbZIP12" transform="rotate(265)"><circle cx="815" r="16" class="r"/><text x="-848" class="t f" transform="rotate(180)">AsbZIP12</text></g>
<g id="n-AsbZIP05" transform="rotate(267.5)"><circle cx="815" r="16" class="r"/><text x="-848" class="t f" transform="rotate(180)">AsbZIP05</text></g>
<g id="n-AsbZIP19" transform="rotate(270)"><circle cx="815" r="16" class="r"/><text x="-848" class="t f" transform="rotate(180)">AsbZIP19</text></g>
<g id="n-AtbZIP67" transform="rotate(272.5)"><circle cx="815" r="16" class="g"/><text x="848" class="t">AtbZIP67</text></g>
<g id="n-AsbZIP13" transform="rotate(275)"><circle cx="815" r="16" class="r"/><text x="848" class="t">AsbZIP13</text></g>
<g id="n-AtbZIP39" transform="rotate(277.5)"><circle cx="815" r="16" class="g"/><text x="848" class="t">AtbZIP39</text></g>
<g id="n-AsbZIP51" transform="rotate(280)"><circle cx="815" r="16" class="r"/><text x="848" class="t">AsbZIP51</text></g>
<g id="n-AsbZIP01" transform="rotate(282.5)"><circle cx="815" r="16" class="r"/><text x="848" class="t">AsbZIP01</text></g>
<g id="n-AsbZIP40" transform="rotate(285)"><circle cx="815" r="16" class="r"/><text x="848" class="t">AsbZIP40</text></g>
<g id="n-AsbZIP16" transform="rotate(287.5)"><circle cx="815" r="16" class="r"/><text x="848" class="t">AsbZIP16</text></g>
<g id="n-AtbZIP13" transform="rotate(290)"><circle cx="815" r="16" class="g"/><text x="848" class="t">AtbZIP13</text></g>
<g id="n-AtbZIP40" transform="rotate(292.5)"><circle cx="815" r="16" class="g"/><text x="848" class="t">AtbZIP40</text></g>
<g id="n-AtbZIP01" transform="rotate(295)"><circle cx="815" r="16" class="g"/><text x="848" class="t">AtbZIP01</text></g>
<g id="n-AsbZIP08" transform="rotate(297.5)"><circle cx="815" r="16" class="r"/><text x="848" class="t">AsbZIP08</text></g>
<g id="n-AtbZIP53" transform="rotate(300)"><circle cx="815" r="16" class="g"/><text x="848" class="t">AtbZIP53</text></g>
<g id="n-AsbZIP60" transform="rotate(302.5)"><circle cx="815" r="16" class="r"/><text x="848" class="t">AsbZIP60</text></g>
<g id="n-AsbZIP56" transform="rotate(305)"><circle cx="815" r="16" class="r"/><text x="848" class="t">AsbZIP56</text></g>
<g id="n-AtbZIP11" transform="rotate(307.5)"><circle cx="815" r="16" class="g"/><text x="848" class="t">AtbZIP11</text></g>
<g id="n-AtbZIP44" transform="rotate(310)"><circle cx="815" r="16" class="g"/><text x="848" class="t">AtbZIP44</text></g>
<g id="n-AsbZIP18" transform="rotate(312.5)"><circle cx="815" r="16" class="r"/><text x="848" class="t">AsbZIP18</text></g>
<g id="n-AsbZIP38" transform="rotate(315)"><circle cx="815" r="16" class="r"/><text x="848" class="t">AsbZIP38</text></g>
<g id="n-AtbZIP02" transform="rotate(317.5)"><circle cx="815" r="16" class="g"/><text x="848" class="t">AtbZIP02</text></g>
<g id="n-AsbZIP03" transform="rotate(320)"><circle cx="815" r="16" class="r"/><text x="848" class="t">AsbZIP03</text></g>
<g id="n-AsbZIP20" transform="rotate(322.5)"><circle cx="815" r="16" class="r"/><text x="848" class="t">AsbZIP20</text></g>
<g id="n-AtbZIP04" transform="rotate(325)"><circle cx="815" r="16" class="g"/><text x="848" class="t">AtbZIP04</text></g>
<g id="n-AtbZIP05" transform="rotate(327.5)"><circle cx="815" r="16" class="g"/><text x="848" class="t">AtbZIP05</text></g>
<g id="n-AtbZIP06" transform="rotate(330)"><circle cx="815" r="16" class="g"/><text x="848" class="t">AtbZIP06</text></g>
<g id="n-AtbZIP07" transform="rotate(332.5)"><circle cx="815" r="16" class="g"/><text x="848" class="t">AtbZIP07</text></g>
<g id="n-AsbZIP42" transform="rotate(335)"><circle cx="815" r="16" class="r"/><text x="848" class="t">AsbZIP42</text></g>
<g id="n-AtbZIP08" transform="rotate(337.5)"><circle cx="815" r="16" class="g"/><text x="848" class="t">AtbZIP08</text></g>
<g id="n-AsbZIP10" transform="rotate(340)"><circle cx="815" r="16" class="r"/><text x="848" class="t">AsbZIP10</text></g>
<g id="n-AtbZIP48" transform="rotate(342.5)"><circle cx="815" r="16" class="g"/><text x="848" class="t">AtbZIP48</text></g>
<g id="n-AtbZIP58" transform="rotate(345)"><circle cx="815" r="16" class="g"/><text x="848" class="t">AtbZIP58</text></g>
<g id="n-AtbZIP03" transform="rotate(347.5)"><circle cx="815" r="16" class="g"/><text x="848" class="t">AtbZIP03</text></g>
<g id="n-AsbZIP07" transform="rotate(350)"><circle cx="815" r="16" class="r"/><text x="848" class="t">AsbZIP07</text></g>
<g id="n-AsbZIP26" transform="rotate(352.5)"><circle cx="815" r="16" class="r"/><text x="848" class="t">AsbZIP26</text></g>
<g id="n-AtbZIP42" transform="rotate(355)"><circle cx="815" r="16" class="g"/><text x="848" class="t">AtbZIP42</text></g>
<g id="n-AtbZIP43" transform="rotate(357.5)"><circle cx="815" r="16" class="g"/><text x="848" class="t">AtbZIP43</text></g>
</g>
<g id="clade-letters" class="cl">
<text transform="rotate(330) translate(1120 0)" fill="#EE6363">S</text>
<text transform="rotate(16.25) translate(1120 0)" fill="#00CC99">C</text>
<text transform="rotate(37.5) translate(1120 0)" fill="#99CC33">G</text>
<text transform="rotate(61.25) translate(1120 0)" fill="#006600">J</text>
<text transform="rotate(68.75) translate(1120 0)" fill="#A8D4EA">H</text>
<text transform="rotate(76.25) translate(1120 0)" fill="#006F5E">K</text>
<text transform="rotate(83.75) translate(1120 0)" fill="#A020F0">B</text>
<text transform="rotate(92.5) translate(1120 0) rotate(180)" fill="#FF8040">M</text>
<text transform="rotate(108.75) translate(1120 0) rotate(180)" fill="#B98BFA">E</text>
<text transform="rotate(146.25) translate(1120 0) rotate(180)" fill="#00008B">I</text>
<text transform="rotate(178.75) translate(1120 0) rotate(180)" fill="#4169E1">F</text>
<text transform="rotate(207.5) translate(1120 0) rotate(180)" fill="#F4C4B8">D</text>
<text transform="rotate(261.25) translate(1120 0) rotate(180)" fill="#00999E">A</text>
</g>
</g>
<g id="legend">
<circle cx="1879" cy="2080" r="23" class="g"/>
<text x="1923" y="2080" class="lg">A. thaliana</text>
<circle cx="1879" cy="2147" r="23" class="r"/>
<text x="1923" y="2147" class="lg">A. sinensis</text>
</g>
</svg>
